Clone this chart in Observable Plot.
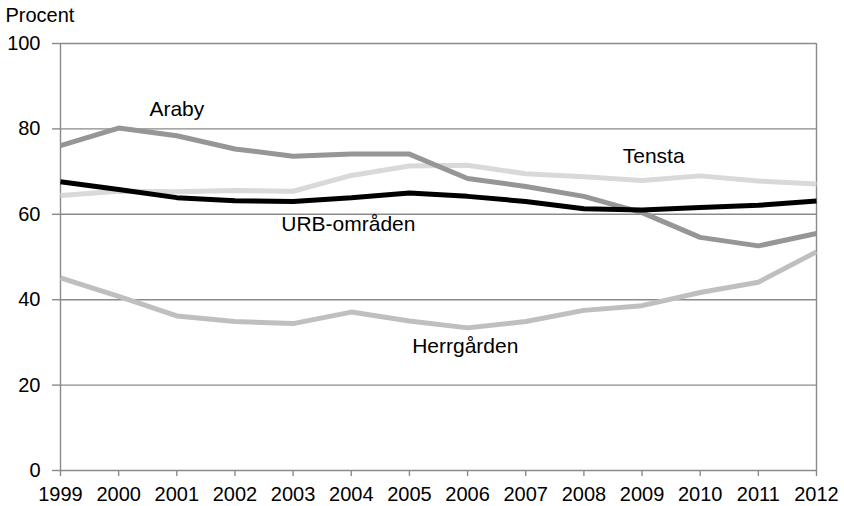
<!DOCTYPE html>
<html><head><meta charset="utf-8">
<script src="https://cdn.jsdelivr.net/npm/d3@7"></script>
<script src="https://cdn.jsdelivr.net/npm/@observablehq/plot@0.6"></script>
<style>body{margin:0;background:#fff}</style>
</head><body><div id="chart"></div>
<script>
const years = [1999,2000,2001,2002,2003,2004,2005,2006,2007,2008,2009,2010,2011,2012];
const araby = [76.1,80.2,78.4,75.3,73.6,74.1,74.1,68.4,66.5,64.2,60.4,54.6,52.6,55.5];
const tensta = [64.4,65.4,65.3,65.6,65.4,69.1,71.3,71.5,69.5,68.8,67.9,69.0,67.8,67.1];
const urb = [67.6,65.8,63.9,63.2,63.0,63.9,65.0,64.2,63.0,61.3,61.0,61.6,62.1,63.1];
const herr = [45.1,40.8,36.2,34.9,34.4,37.1,35.0,33.4,34.9,37.5,38.6,41.7,44.1,51.2];
const yTicks = [0,20,40,60,80,100];

const seriesNames = ["Tensta","Araby","Herrgården","URB-områden"];
const seriesVals = [tensta, araby, herr, urb];
const colors = {"Tensta":"#d9d9d9","Araby":"#969696","Herrgården":"#bfbfbf","URB-områden":"#000000"};
const data = seriesNames.flatMap((s,i)=>years.map((y,j)=>({series:s, year:y, value:seriesVals[i][j]})));

const labels = [
  {name:"Araby", year:2001.0, value:84.5},
  {name:"Tensta", year:2009.2, value:73.5},
  {name:"URB-områden", year:2003.95, value:57.6},
  {name:"Herrgården", year:2005.96, value:29.0}
];

const chart = Plot.plot({
  width:844, height:506,
  marginLeft:60, marginRight:28, marginTop:43, marginBottom:36,
  style:{fontFamily:"'Liberation Sans', Arial, sans-serif", fontSize:"20px", color:"#000", background:"#fff"},
  x:{domain:[1999,2012], label:null},
  y:{domain:[0,100], label:null},
  marks:[
    Plot.ruleY(yTicks, {stroke:"#8a8a8a", strokeWidth:1.4}),
    Plot.ruleX([1999], {stroke:"#8a8a8a", strokeWidth:1.4}),
    Plot.ruleX([2012], {stroke:"#8a8a8a", strokeWidth:1.4}),
    Plot.axisX({ticks:years, tickFormat:d=>String(d), stroke:"#8a8a8a", strokeWidth:1.4, tickSize:6, tickPadding:10, fontSize:20, label:null}),
    Plot.axisY({ticks:yTicks, stroke:"#8a8a8a", strokeWidth:1.4, tickSize:8, tickPadding:12, fontSize:20, label:null}),
    Plot.line(data, {x:"year", y:"value", z:"series", stroke:d=>colors[d.series], strokeWidth:5, strokeLinejoin:"miter", strokeLinecap:"butt"}),
    Plot.text(labels, {x:"year", y:"value", text:"name", fontSize:21, fill:"#000"}),
    Plot.text(["Procent"], {frameAnchor:"top-left", dx:-55, dy:-36, fontSize:20, textAnchor:"start", fill:"#000"})
  ]
});
document.getElementById("chart").appendChild(chart);
</script>
</body></html>
